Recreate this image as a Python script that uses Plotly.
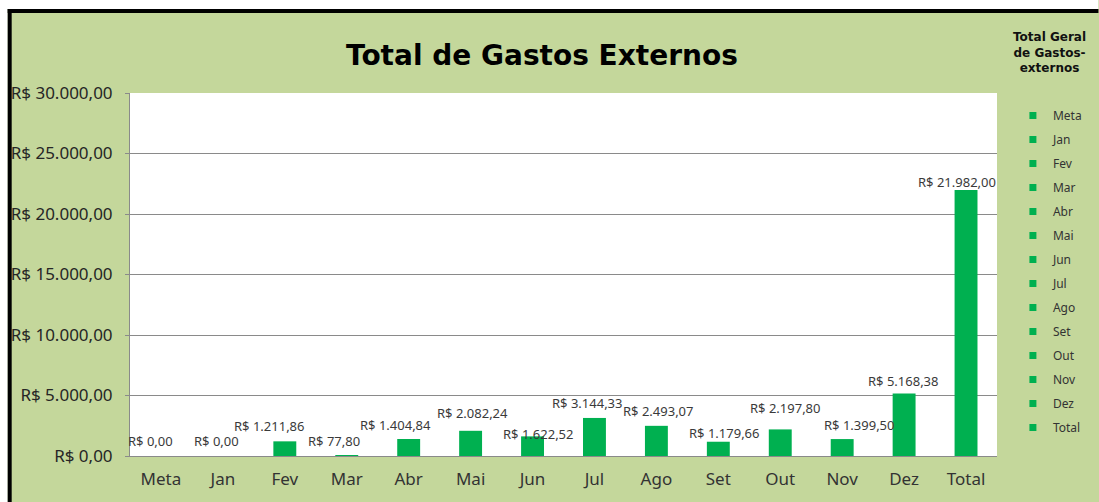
import plotly.graph_objects as go

categories = ["Meta", "Jan", "Fev", "Mar", "Abr", "Mai", "Jun", "Jul", "Ago", "Set", "Out", "Nov", "Dez", "Total"]
values = [0.00, 0.00, 1211.86, 77.80, 1404.84, 2082.24, 1622.52, 3144.33, 2493.07, 1179.66, 2197.80, 1399.50, 5168.38, 21982.00]
y_ticks = [0, 5000, 10000, 15000, 20000, 25000, 30000]

def brl(v):
    s = f"{v:,.2f}"
    s = s.replace(",", "X").replace(".", ",").replace("X", ".")
    return "R$ " + s

y_tick_text = [brl(v) for v in y_ticks]

GREEN = "#00B050"
BG = "#C4D79B"
GRID = "#8A8A8A"
FONT = "Noto Sans"

# pixel nudges of each data label relative to the top of its bar (as placed in the original)
LABEL_DX = [-10, -6, -15, -13, -13, 2, 6, -7, 2, 6, 5, 17, -1, -9]
LABEL_DY = [15, 15, 15, 14, 14, 18, 2, 15, 15, 9, 21, 14, 12, 8]

W, H = 1099, 502
ML, MR, MT, MB = 130, 97, 93, 46
PW, PH = W - ML - MR, H - MT - MB

def px_x(p):
    return (p - ML) / PW

def px_y(p):
    return (H - MB - p) / PH

fig = go.Figure()
for cat, val in zip(categories, values):
    fig.add_trace(go.Bar(
        x=[cat], y=[val], width=0.37,
        marker=dict(color=GREEN, line=dict(width=0)),
        showlegend=False, legendgroup=cat, name=cat,
        hoverinfo="x+y",
    ))
for cat in categories:
    fig.add_trace(go.Scatter(
        x=[None], y=[None], mode="markers", name=cat, legendgroup=cat,
        marker=dict(symbol="square", size=7, color=GREEN),
        showlegend=True,
    ))

shapes = [
    # white surround outside the black frame (top and left)
    dict(type="rect", xref="paper", yref="paper", x0=px_x(-5), x1=px_x(W + 5), y0=px_y(9), y1=px_y(-5),
         fillcolor="white", line=dict(width=0), layer="above"),
    dict(type="rect", xref="paper", yref="paper", x0=px_x(-5), x1=px_x(7), y0=px_y(H + 5), y1=px_y(-5),
         fillcolor="white", line=dict(width=0), layer="above"),
    # black frame
    dict(type="line", xref="paper", yref="paper", x0=px_x(7), x1=px_x(W + 5), y0=px_y(11), y1=px_y(11),
         line=dict(color="black", width=4), layer="above"),
    dict(type="line", xref="paper", yref="paper", x0=px_x(9), x1=px_x(9), y0=px_y(H + 5), y1=px_y(9),
         line=dict(color="black", width=4), layer="above"),
]

annotations = [
    dict(text="<b>Total de Gastos Externos</b>", xref="paper", yref="paper",
         x=px_x(544.5), y=px_y(55), xanchor="center", yanchor="middle", showarrow=False,
         font=dict(family="DejaVu Sans", size=28, color="black")),
    dict(text="<b>Total Geral<br>de Gastos-<br>externos</b>", xref="paper", yref="paper",
         x=px_x(1055), y=px_y(52), xanchor="center", yanchor="middle", showarrow=False,
         align="center", font=dict(family="DejaVu Sans", size=12, color="#111111")),
]
for cat, val, dx, dy in zip(categories, values, LABEL_DX, LABEL_DY):
    annotations.append(dict(
        text=brl(val), x=cat, y=val, xref="x", yref="y",
        xshift=dx, yshift=dy, xanchor="center", yanchor="middle", showarrow=False,
        font=dict(family=FONT, size=13, color="#3a3a3a"),
    ))

fig.update_layout(
    width=W, height=H,
    margin=dict(l=ML, r=MR, t=MT, b=MB),
    paper_bgcolor=BG, plot_bgcolor="white",
    barmode="overlay",
    font=dict(family=FONT, color="#262626"),
    shapes=shapes, annotations=annotations,
    legend=dict(
        x=px_x(1018), y=px_y(101), xanchor="left", yanchor="top",
        bgcolor="rgba(0,0,0,0)", font=dict(family=FONT, size=12, color="#333333"),
        tracegroupgap=5, itemwidth=30,
    ),
    xaxis=dict(
        categoryorder="array", categoryarray=categories,
        range=[-0.5, len(categories) - 0.5],
        showline=True, linecolor=GRID, linewidth=1, ticks="",
        tickfont=dict(family=FONT, size=17, color="#333333"),
        ticklabelstandoff=8, automargin=False,
        showgrid=False, fixedrange=True,
    ),
    yaxis=dict(
        range=[0, 30000], tickvals=y_ticks, ticktext=y_tick_text,
        showgrid=True, gridcolor=GRID, gridwidth=1,
        showline=True, linecolor=GRID, linewidth=1,
        ticks="outside", ticklen=4, tickcolor=GRID,
        ticklabelstandoff=9, automargin=False,
        tickfont=dict(family=FONT, size=17, color="#262626"),
        zeroline=False, fixedrange=True,
    ),
)

fig.write_html("out.html", config={"displayModeBar": False},
               post_script="document.body.style.margin='0';")
